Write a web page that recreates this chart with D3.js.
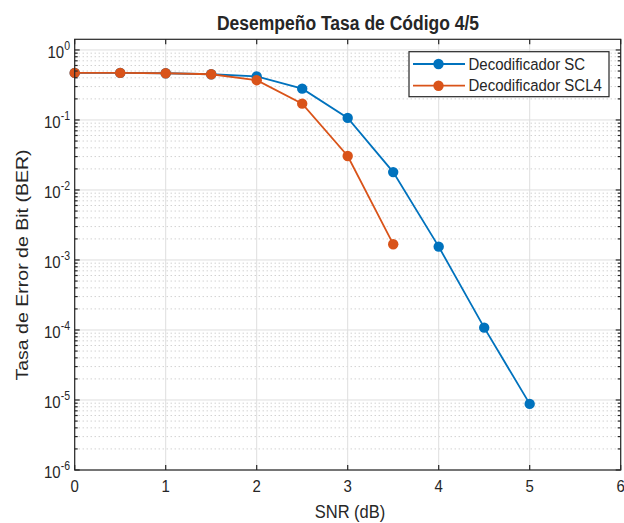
<!DOCTYPE html>
<html>
<head>
<meta charset="utf-8">
<script src="https://cdn.jsdelivr.net/npm/d3@7"></script>
<style>
body{margin:0;background:#fff;}
text{font-family:"Liberation Sans",Arial,sans-serif;fill:#262626;}
</style>
</head>
<body>
<div id="chart"></div>
<script>
(function(){
var W = 624, H = 523;
var snrSC = [0, 0.5, 1, 1.5, 2, 2.5, 3, 3.5, 4, 4.5, 5];
var berSC = [0.47, 0.47, 0.465, 0.45, 0.42, 0.28, 0.107, 0.018, 0.00155, 0.000108, 0.0000088];
var snrSCL4 = [0, 0.5, 1, 1.5, 2, 2.5, 3, 3.5];
var berSCL4 = [0.47, 0.47, 0.465, 0.45, 0.37, 0.171, 0.0306, 0.00168];
var xTicks = [0, 1, 2, 3, 4, 5, 6];
var yExps = [-6, -5, -4, -3, -2, -1, 0];
var seriesNames = ["Decodificador SC", "Decodificador SCL4"];
var seriesColors = ["#0072BD", "#D95319"];

var SY = 1.15; // text looks stretched vertically in the reference
var left = 74.7, right = 620.7, top = 39.3, bottom = 470;
var x = d3.scaleLinear().domain([0, 6]).range([left, right]);
var y = d3.scaleLog().domain([1e-6, 1.42]).range([bottom, top]);

var svg = d3.select("#chart").append("svg").attr("width", W).attr("height", H);
svg.append("rect").attr("width", W).attr("height", H).attr("fill", "#fff");

function stretchText(g, tx, ty, extra){
	return g.append("text").attr("transform", "translate(" + tx + "," + ty + ") " + (extra || "") + " scale(1," + SY + ")");
}

// grid
var minorVals = [];
yExps.forEach(function(e){
	if (e >= 0) return;
	for (var m = 2; m <= 9; m++) minorVals.push(m * Math.pow(10, e));
});
var grid = svg.append("g");
grid.selectAll(".minor").data(minorVals).enter().append("line")
		.attr("x1", left).attr("x2", right)
		.attr("y1", function(d){ return y(d); }).attr("y2", function(d){ return y(d); })
		.attr("stroke", "#bdbdbd").attr("stroke-width", 1).attr("stroke-dasharray", "1,3");
grid.selectAll(".hmaj").data(yExps).enter().append("line")
		.attr("x1", left).attr("x2", right)
		.attr("y1", function(e){ return y(Math.pow(10, e)); }).attr("y2", function(e){ return y(Math.pow(10, e)); })
		.attr("stroke", "#dedede").attr("stroke-width", 1);
grid.selectAll(".vmaj").data(xTicks).enter().append("line")
		.attr("x1", function(d){ return x(d); }).attr("x2", function(d){ return x(d); })
		.attr("y1", top).attr("y2", bottom)
		.attr("stroke", "#dedede").attr("stroke-width", 1);

// series
var series = [
	{ name: seriesNames[0], color: seriesColors[0], pts: d3.zip(snrSC, berSC) },
	{ name: seriesNames[1], color: seriesColors[1], pts: d3.zip(snrSCL4, berSCL4) }
];
var line = d3.line().x(function(p){ return x(p[0]); }).y(function(p){ return y(p[1]); });
var plot = svg.append("g");
series.forEach(function(s){
	var g = plot.append("g");
	g.append("path").attr("d", line(s.pts)).attr("fill", "none")
			.attr("stroke", s.color).attr("stroke-width", 1.8);
	g.selectAll("circle").data(s.pts).enter().append("circle")
			.attr("cx", function(p){ return x(p[0]); })
			.attr("cy", function(p){ return y(p[1]); })
			.attr("r", 5.2).attr("fill", s.color);
});

// axes box and ticks
var ax = svg.append("g").attr("stroke", "#262626").attr("stroke-width", 1.2);
ax.append("rect").attr("x", left).attr("y", top).attr("width", right - left).attr("height", bottom - top)
		.attr("fill", "none");
xTicks.forEach(function(d){
	ax.append("line").attr("x1", x(d)).attr("x2", x(d)).attr("y1", bottom).attr("y2", bottom - 5);
	ax.append("line").attr("x1", x(d)).attr("x2", x(d)).attr("y1", top).attr("y2", top + 5);
});
yExps.forEach(function(e){
	var yy = y(Math.pow(10, e));
	ax.append("line").attr("x1", left).attr("x2", left + 5).attr("y1", yy).attr("y2", yy);
	ax.append("line").attr("x1", right).attr("x2", right - 5).attr("y1", yy).attr("y2", yy);
});
minorVals.forEach(function(v){
	var yy = y(v);
	ax.append("line").attr("x1", left).attr("x2", left + 3).attr("y1", yy).attr("y2", yy);
	ax.append("line").attr("x1", right).attr("x2", right - 3).attr("y1", yy).attr("y2", yy);
});

// tick labels
var lab = svg.append("g");
xTicks.forEach(function(d){
	stretchText(lab, x(d), 491.5).attr("text-anchor", "middle").attr("font-size", 15)
			.attr("fill", "#404040").text(d);
});
yExps.forEach(function(e){
	var t = stretchText(lab, 70, y(Math.pow(10, e)) + 8).attr("text-anchor", "end")
			.attr("font-size", 15).attr("fill", "#404040");
	t.append("tspan").text("10");
	t.append("tspan").attr("dy", -7).attr("font-size", 10.5).text(e);
});

// titles
stretchText(svg, 348, 30).attr("text-anchor", "middle").attr("font-size", 17.5)
		.attr("font-weight", "bold").attr("fill", "#000").text("Desempeño Tasa de Código 4/5");
stretchText(svg, 350, 518).attr("text-anchor", "middle").attr("font-size", 16.5)
		.attr("fill", "#262626").text("SNR (dB)");
svg.append("text").attr("transform", "translate(28,265) rotate(-90) scale(" + SY + ",1)")
		.attr("text-anchor", "middle").attr("font-size", 17).attr("fill", "#262626")
		.text("Tasa de Error de Bit (BER)");

// legend
var leg = svg.append("g");
leg.append("rect").attr("x", 409).attr("y", 51.7).attr("width", 200).attr("height", 45)
		.attr("fill", "#fff").attr("stroke", "#262626").attr("stroke-width", 1.2);
series.forEach(function(s, i){
	var ly = 64 + i * 21.7;
	leg.append("line").attr("x1", 413).attr("x2", 465).attr("y1", ly).attr("y2", ly)
			.attr("stroke", s.color).attr("stroke-width", 1.8);
	leg.append("circle").attr("cx", 438.5).attr("cy", ly).attr("r", 5.2).attr("fill", s.color);
	stretchText(leg, 468.5, ly + 5.5).attr("font-size", 15).attr("fill", "#262626").text(s.name);
});
})();
</script>
</body>
</html>
